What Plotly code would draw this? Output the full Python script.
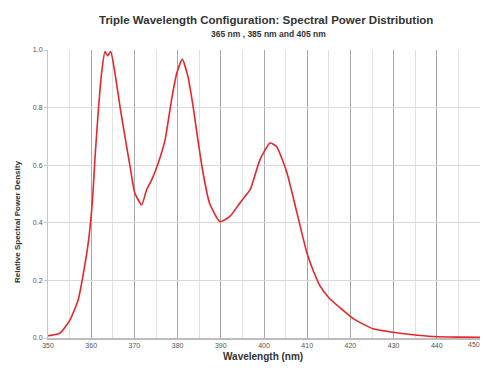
import plotly.graph_objects as go

wavelength_nm = [350, 351, 352.8, 355.1, 357.0, 358.2, 359.4, 360.3, 360.9, 361.6, 362.4, 363.2,
                 363.8, 364.5, 365.5, 366.7, 367.8, 369.0, 370.1, 371.7, 372.8, 374.0, 375.5,
                 377.1, 378.6, 379.8, 381.1, 382.4, 383.6, 384.7, 385.9, 387.4, 389.8, 392.1,
                 394.0, 395.5, 396.8, 399.1, 401.4, 402.9, 405.3, 407.6, 409.9, 411.5, 413.0,
                 415.0, 417.6, 420.6, 425.2, 429.9, 434.0, 439.1, 445.0, 450.0]
relative_power = [0.008, 0.01, 0.017, 0.063, 0.133, 0.225, 0.34, 0.48, 0.63, 0.78, 0.92, 0.995,
                  0.98, 0.995, 0.92, 0.80, 0.70, 0.595, 0.503, 0.462, 0.514, 0.549, 0.607,
                  0.688, 0.827, 0.919, 0.968, 0.907, 0.803, 0.688, 0.572, 0.468, 0.404, 0.422,
                  0.46, 0.49, 0.515, 0.62, 0.677, 0.665, 0.574, 0.436, 0.297, 0.23, 0.18,
                  0.14, 0.105, 0.068, 0.032, 0.02, 0.012, 0.005, 0.003, 0.002]

x_ticks = [350, 360, 370, 380, 390, 400, 410, 420, 430, 440, 450]
y_ticks = [0.0, 0.2, 0.4, 0.6, 0.8, 1.0]

title_text = "Triple Wavelength Configuration: Spectral Power Distribution"
subtitle_text = "365 nm , 385 nm and 405 nm"
x_title = "Wavelength (nm)"
y_title = "Relative Spectral Power Density"

fig = go.Figure()
fig.add_trace(go.Scatter(x=wavelength_nm, y=relative_power, mode="lines",
                         line=dict(color="#e8262b", width=1.6, shape="spline", smoothing=0.5),
                         showlegend=False))

font_family = "Liberation Sans, Arial, sans-serif"
fig.update_layout(
    width=483, height=374,
    margin=dict(l=48, r=3, t=50, b=36),
    paper_bgcolor="white", plot_bgcolor="white",
    font=dict(family=font_family, color="#333"),
    xaxis=dict(range=[350, 450], tickvals=x_ticks, showgrid=True, gridcolor="#a8a8a8",
               gridwidth=1.4, zeroline=False, showline=True, linecolor="#bdbdbd", linewidth=1.5,
               ticks="", tickfont=dict(size=7, color="#555"),
               minor=dict(dtick=5, tick0=350, showgrid=True, gridcolor="#e2e2e2", gridwidth=1)),
    yaxis=dict(range=[0, 1], tickvals=y_ticks, tickformat=".1f", showgrid=True,
               gridcolor="#d9d9d9", gridwidth=1, zeroline=False, showline=True,
               linecolor="#c8c8c8", linewidth=1, ticks="outside", ticklen=3,
               tickcolor="#c8c8c8", tickfont=dict(size=7, color="#555")),
)


def px_ann(text, xpx, ypx, size, angle=0, bold=True, color="#333", xanchor="center"):
    # convert pixel positions to paper coordinates
    pw = 483 - 48 - 3
    ph = 374 - 50 - 36
    xp = (xpx - 48) / pw
    yp = 1 - (ypx - 50) / ph
    fig.add_annotation(text=("<b>%s</b>" % text) if bold else text, x=xp, y=yp,
                       xref="paper", yref="paper", showarrow=False, textangle=angle,
                       xanchor=xanchor, yanchor="middle",
                       font=dict(size=size, color=color, family=font_family))


px_ann(title_text, 266, 20, 11.5)
px_ann(subtitle_text, 268, 34, 8.5)
px_ann(x_title, 263, 356, 10)
px_ann(y_title, 17, 222, 8, angle=-90)
px_ann(str(x_ticks[-1]), 482, 344, 7, bold=False, color="#555", xanchor="right")

fig.write_html("out.html")
